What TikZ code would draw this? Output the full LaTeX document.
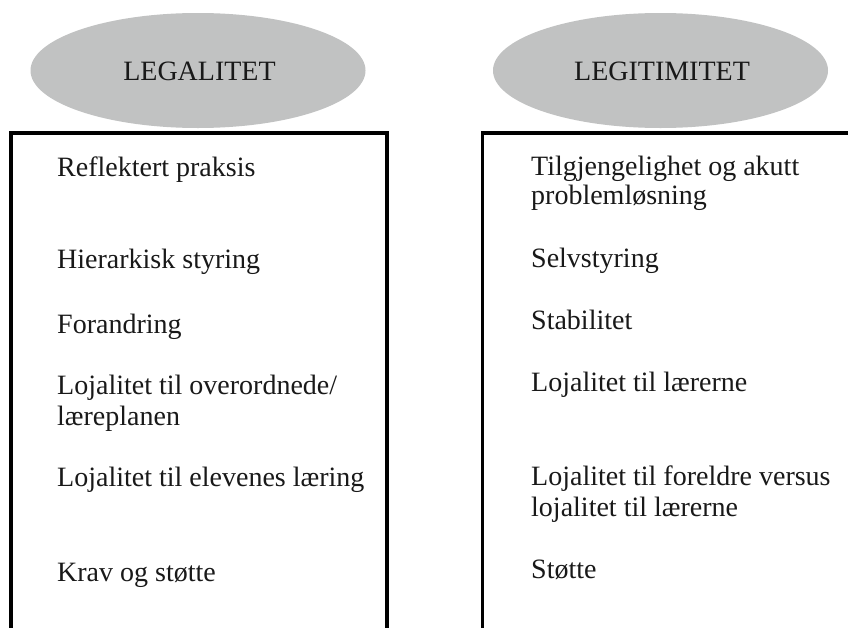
\documentclass[tikz,border=0pt]{standalone}
\usepackage{fontspec}
\setmainfont{Liberation Serif}
\usetikzlibrary{shapes.geometric}
\definecolor{ovalgray}{RGB}{193,194,194}
\definecolor{ink}{RGB}{25,25,25}
\tikzset{
  heading/.style={ellipse, fill=ovalgray, draw=none, inner sep=0pt,
    minimum width=335pt, minimum height=115pt, text=ink,
    font=\fontsize{28}{31}\selectfont},
  item/.style={anchor=base west, inner sep=0pt, align=left, text=ink,
    font=\fontsize{28}{31}\selectfont},
  frame/.style={line width=3.6pt, draw=black}
}
\begin{document}
\begin{tikzpicture}[x=1pt, y=-1pt]
  \useasboundingbox (0,0) rectangle (848,627);
  \clip (0,0) rectangle (848,627);
  \fill[white] (0,0) rectangle (848,627);

  % headings
  \node[heading] (legal) at (198,70.5) {};
  \node[heading] (legit) at (660.5,70.5) {};
  \node[anchor=base, inner sep=0pt, text=ink, font=\fontsize{28}{31}\selectfont] (legaltxt) at (199.5,80) {LEGALITET};
  \node[anchor=base, inner sep=0pt, text=ink, font=\fontsize{28}{31}\selectfont] (legittxt) at (662,80) {LEGITIMITET};

  % open-bottomed frames
  \draw[frame] (11,660) -- (11,133) -- (387,133) -- (387,660);
  \draw[frame] (482.5,660) -- (482.5,133) -- (900,133);

  % left column
  \node[item] (l1) at (57,176.5) {Reflektert praksis};
  \node[item] (l2) at (57,268) {Hierarkisk styring};
  \node[item] (l3) at (57,333) {Forandring};
  \node[item] (l4a) at (57,394) {Lojalitet til overordnede/};
  \node[item] (l4b) at (57,425) {læreplanen};
  \node[item] (l5) at (57,486) {Lojalitet til elevenes læring};
  \node[item] (l6) at (57,581) {Krav og støtte};

  % right column
  \node[item] (r1a) at (531,175) {Tilgjengelighet og akutt};
  \node[item] (r1b) at (531,204) {problemløsning};
  \node[item] (r2) at (531,267) {Selvstyring};
  \node[item] (r3) at (531,329) {Stabilitet};
  \node[item] (r4) at (531,391) {Lojalitet til lærerne};
  \node[item] (r5a) at (531,485) {Lojalitet til foreldre versus};
  \node[item] (r5b) at (531,516) {lojalitet til lærerne};
  \node[item] (r6) at (531,578) {Støtte};
\end{tikzpicture}
\end{document}
